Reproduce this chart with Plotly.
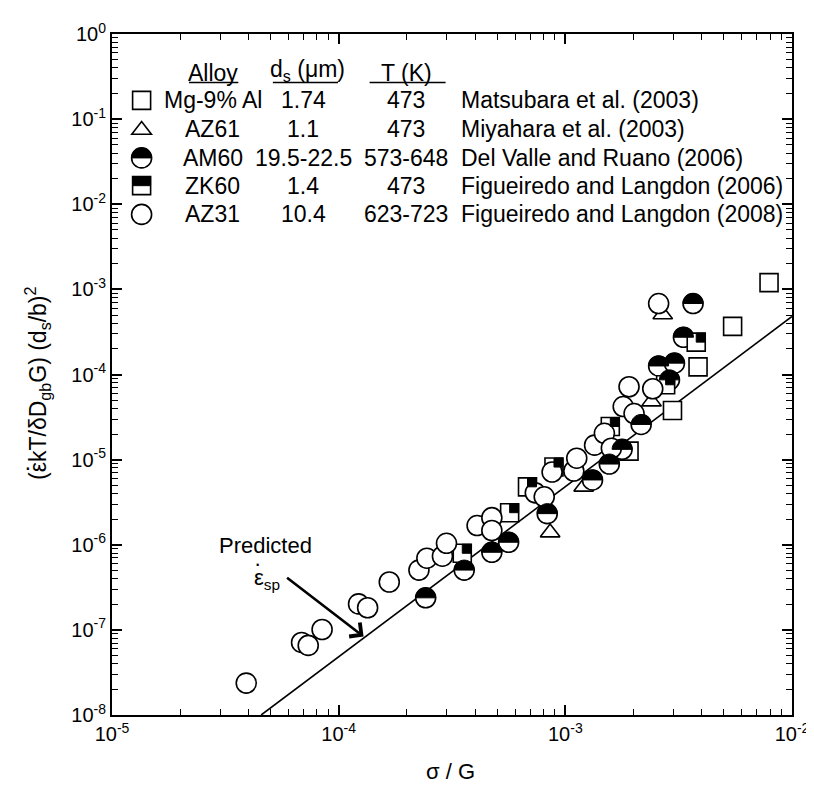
import numpy as np
import plotly.graph_objects as go

# ---------------- data ----------------
mg_x = [1.91e-3, 2.97e-3, 3.85e-3, 5.47e-3, 7.92e-3]
mg_y = [1.26e-5, 3.77e-5, 1.23e-4, 3.68e-4, 1.20e-3]

az61_x = [8.57e-4, 1.205e-3, 2.40e-3, 2.69e-3]
az61_y = [1.39e-6, 4.79e-6, 4.80e-5, 5.07e-4]

am60_x = [2.42e-4, 3.58e-4, 4.74e-4, 5.62e-4, 8.32e-4, 1.318e-3, 1.563e-3,
          1.78e-3, 2.16e-3, 2.88e-3, 2.58e-3, 3.03e-3, 3.32e-3, 3.66e-3]
am60_y = [2.38e-7, 5.04e-7, 8.16e-7, 1.07e-6, 2.32e-6, 5.77e-6, 8.87e-6,
          1.32e-5, 2.59e-5, 8.65e-5, 1.26e-4, 1.36e-4, 2.74e-4, 6.82e-4]

zk60_x = [3.51e-4, 5.68e-4, 6.81e-4, 8.91e-4, 1.579e-3, 2.77e-3, 3.78e-3]
zk60_y = [7.94e-7, 2.38e-6, 4.79e-6, 8.18e-6, 2.45e-5, 7.57e-5, 2.40e-4]

az31_x = [3.91e-5, 6.86e-5, 7.34e-5, 8.45e-5, 1.224e-4, 1.342e-4, 1.672e-4,
          2.26e-4, 2.45e-4, 2.87e-4, 2.99e-4, 4.08e-4, 4.74e-4, 4.74e-4,
          7.37e-4, 8.07e-4, 8.74e-4, 1.09e-3, 1.123e-3, 1.346e-3, 1.487e-3,
          1.596e-3, 1.80e-3, 2.01e-3, 1.91e-3, 2.43e-3, 2.58e-3]
az31_y = [2.37e-8, 7.11e-8, 6.57e-8, 1.01e-7, 2.02e-7, 1.82e-7, 3.65e-7,
          5.04e-7, 6.95e-7, 7.33e-7, 1.04e-6, 1.68e-6, 2.08e-6, 1.47e-6,
          4.07e-6, 3.66e-6, 7.15e-6, 7.35e-6, 1.04e-5, 1.48e-5, 2.04e-5,
          1.36e-5, 4.20e-5, 3.48e-5, 7.18e-5, 6.80e-5, 6.82e-4]

pred_x = [4.55e-5, 1.0e-2]
pred_y = [1.0e-8, 4.8e-4]
arrow_head = (1.288e-4, 8.35e-8)

x_tick_vals = [1e-5, 1e-4, 1e-3, 1e-2]
x_tick_text = ["10<sup>-5</sup>", "10<sup>-4</sup>", "10<sup>-3</sup>", "10<sup>-2</sup>"]
y_tick_vals = [10.0 ** e for e in range(-8, 1)]
y_tick_text = ["10<sup>%d</sup>" % e for e in range(-8, 1)]

legend_alloy = ["Mg-9% Al", "AZ61", "AM60", "ZK60", "AZ31"]
legend_ds = ["1.74", "1.1", "19.5-22.5", "1.4", "10.4"]
legend_T = ["473", "473", "573-648", "473", "623-723"]
legend_ref = ["Matsubara et al. (2003)", "Miyahara et al. (2003)",
              "Del Valle and Ruano (2006)", "Figueiredo and Langdon (2006)",
              "Figueiredo and Langdon (2008)"]

# ---------------- styling ----------------
FONT = "Arial, Liberation Sans, sans-serif"
FS = 23
OL = dict(color="black", width=1.6)
CIRC = 20
SQ = 18
TRI = 17

fig = go.Figure()

fig.add_trace(go.Scatter(x=pred_x, y=pred_y, mode="lines",
                         line=dict(color="black", width=1.6), hoverinfo="skip"))
fig.add_trace(go.Scatter(x=mg_x, y=mg_y, mode="markers",
                         marker=dict(symbol="square", size=SQ, color="white", line=OL)))
fig.add_trace(go.Scatter(x=az61_x, y=az61_y, mode="markers",
                         marker=dict(symbol="triangle-up", size=TRI, color="white", line=OL)))
fig.add_trace(go.Scatter(x=am60_x, y=am60_y, mode="markers",
                         marker=dict(symbol="circle", size=CIRC, color="white", line=OL)))
fig.add_trace(go.Scatter(x=zk60_x, y=zk60_y, mode="markers",
                         marker=dict(symbol="square", size=SQ, color="white", line=OL)))
fig.add_trace(go.Scatter(x=az31_x, y=az31_y, mode="markers",
                         marker=dict(symbol="circle", size=CIRC, color="white", line=OL)))

shapes = []
k = 0.5523


def half_circle_path(r):
    return ("M %.2f,0 C %.2f,%.2f %.2f,%.2f 0,%.2f C %.2f,%.2f %.2f,%.2f %.2f,0 Z"
            % (-r, -r, k * r, -k * r, r, r, k * r, r, r, k * r, r))


r_c = CIRC / 2.0
for xv, yv in zip(am60_x, am60_y):
    shapes.append(dict(type="path", xref="x", yref="y", xsizemode="pixel", ysizemode="pixel",
                       xanchor=xv, yanchor=yv, path=half_circle_path(r_c),
                       fillcolor="black", line=dict(color="black", width=1), layer="above"))
r_s = SQ / 2.0
for xv, yv in zip(zk60_x, zk60_y):
    shapes.append(dict(type="rect", xref="x", yref="y", xsizemode="pixel", ysizemode="pixel",
                       xanchor=xv, yanchor=yv, x0=-r_s, x1=r_s, y0=0, y1=r_s,
                       fillcolor="black", line=dict(color="black", width=1), layer="above"))

# ---------------- in-plot legend table ----------------
L, R, T, B = 104, 21, 20, 78
W, H = 814, 785
PW, PH = W - L - R, H - T - B


def fx(px):
    return (px - L) / PW


def fy(py):
    return (H - B - py) / PH


ann = []
row_y = [87, 116, 145, 173, 202]


def txt(text, px, py, anchor="center", size=FS):
    ann.append(dict(text=text, xref="paper", yref="paper", x=fx(px), y=fy(py),
                    xanchor=anchor, yanchor="middle", showarrow=False,
                    font=dict(family=FONT, size=size, color="black")))


txt("Alloy", 206, 59)
txt("d<sub>s</sub> (\u03bcm)", 302, 57)
txt("T (K)", 402, 59)
for (x0, x1) in [(182, 232), (267, 333), (365, 442)]:
    shapes.append(dict(type="line", xref="paper", yref="paper", x0=fx(x0), x1=fx(x1),
                       y0=fy(69), y1=fy(69), line=dict(color="black", width=1.5)))
for i in range(5):
    txt(legend_alloy[i], 206, row_y[i])
    txt(legend_ds[i], 298, row_y[i])
    txt(legend_T[i], 402, row_y[i])
    txt(legend_ref[i], 456, row_y[i], anchor="left")

sym_x = fx(134)
shapes.append(dict(type="rect", xref="paper", yref="paper", xsizemode="pixel", ysizemode="pixel",
                   xanchor=sym_x, yanchor=fy(row_y[0]), x0=-r_s, x1=r_s, y0=-r_s, y1=r_s,
                   fillcolor="white", line=OL))
rt = TRI / 2.0
shapes.append(dict(type="path", xref="paper", yref="paper", xsizemode="pixel", ysizemode="pixel",
                   xanchor=sym_x, yanchor=fy(row_y[1]),
                   path="M %.2f,%.2f L %.2f,%.2f L 0,%.2f Z" % (-rt * 1.155, -rt * 0.6, rt * 1.155, -rt * 0.6, rt * 0.9),
                   fillcolor="white", line=OL))
shapes.append(dict(type="circle", xref="paper", yref="paper", xsizemode="pixel", ysizemode="pixel",
                   xanchor=sym_x, yanchor=fy(row_y[2]), x0=-r_c, x1=r_c, y0=-r_c, y1=r_c,
                   fillcolor="white", line=OL))
shapes.append(dict(type="path", xref="paper", yref="paper", xsizemode="pixel", ysizemode="pixel",
                   xanchor=sym_x, yanchor=fy(row_y[2]), path=half_circle_path(r_c),
                   fillcolor="black", line=dict(color="black", width=1)))
shapes.append(dict(type="rect", xref="paper", yref="paper", xsizemode="pixel", ysizemode="pixel",
                   xanchor=sym_x, yanchor=fy(row_y[3]), x0=-r_s, x1=r_s, y0=-r_s, y1=r_s,
                   fillcolor="white", line=OL))
shapes.append(dict(type="rect", xref="paper", yref="paper", xsizemode="pixel", ysizemode="pixel",
                   xanchor=sym_x, yanchor=fy(row_y[3]), x0=-r_s, x1=r_s, y0=0, y1=r_s,
                   fillcolor="black", line=dict(color="black", width=1)))
shapes.append(dict(type="circle", xref="paper", yref="paper", xsizemode="pixel", ysizemode="pixel",
                   xanchor=sym_x, yanchor=fy(row_y[4]), x0=-r_c, x1=r_c, y0=-r_c, y1=r_c,
                   fillcolor="white", line=OL))

# ---------------- arrow and labels ----------------
ann.append(dict(x=np.log10(arrow_head[0]), y=np.log10(arrow_head[1]), xref="x", yref="y",
                ax=-78, ay=-60, axref="pixel", ayref="pixel", text="", showarrow=True,
                arrowhead=4, arrowsize=1.3, arrowwidth=2.6, arrowcolor="black", standoff=0))
txt("Predicted", 260, 536, size=22)
txt("\u03b5<sub>sp</sub>", 261, 570, size=22)
txt("\u00b7", 251, 554, size=22)

# axis titles
ann.append(dict(text="\u03c3 / G", xref="paper", yref="paper", x=fx(447), y=fy(764),
                xanchor="center", yanchor="middle", showarrow=False,
                font=dict(family=FONT, size=22, color="black")))
ann.append(dict(text="(\u03b5kT/\u03b4D<sub>gb</sub>G) (d<sub>s</sub>/b)<sup>2</sup>",
                xref="paper", yref="paper", x=fx(28), y=fy(372), textangle=-90,
                xanchor="center", yanchor="middle", showarrow=False,
                font=dict(family=FONT, size=23, color="black")))
ann.append(dict(text="\u00b7", xref="paper", yref="paper", x=fx(19), y=fy(457),
                xanchor="center", yanchor="middle", showarrow=False,
                font=dict(family=FONT, size=23, color="black")))

tickfont = dict(family=FONT, size=20, color="black")
axis_common = dict(type="log", showgrid=False, zeroline=False, showline=True,
                   linecolor="black", linewidth=2, mirror="allticks",
                   ticks="inside", ticklen=10, tickwidth=1.6, tickcolor="black",
                   tickmode="array", ticklabeloverflow="allow", tickfont=tickfont,
                   minor=dict(ticks="inside", ticklen=6, tickwidth=1.3, tickcolor="black",
                              dtick="D1", showgrid=False))

fig.update_layout(
    width=W, height=H, showlegend=False,
    margin=dict(l=L, r=R, t=T, b=B),
    paper_bgcolor="white", plot_bgcolor="white",
    xaxis=dict(axis_common, range=[-5, -2], tickvals=x_tick_vals, ticktext=x_tick_text),
    yaxis=dict(axis_common, range=[-8, 0], tickvals=y_tick_vals, ticktext=y_tick_text),
    shapes=shapes, annotations=ann,
)

fig.write_html("out.html")
